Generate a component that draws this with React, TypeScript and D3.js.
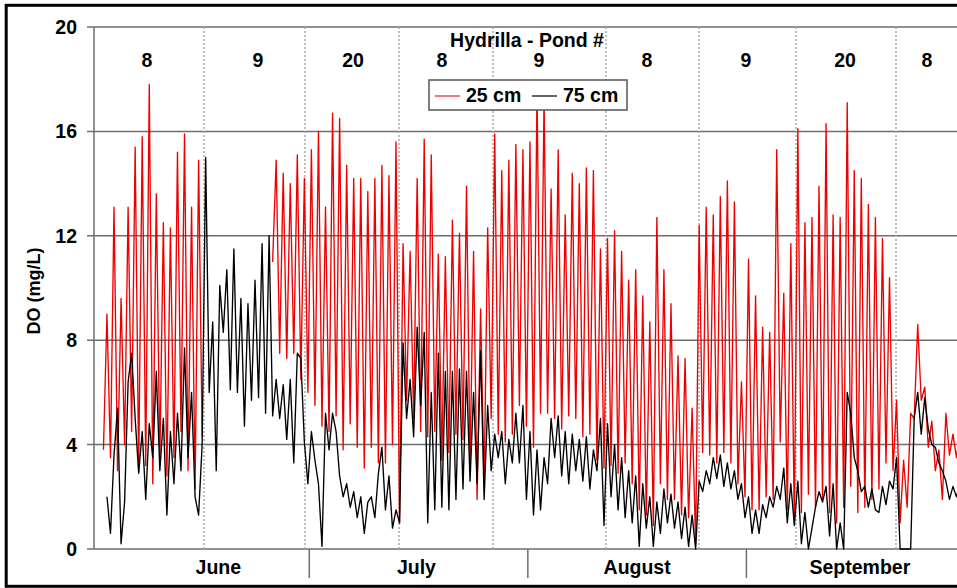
import React from "react";
import * as d3 from "d3";

// ---- data ----
const yTicks = [0, 4, 8, 12, 16, 20];
const months = ["June", "July", "August", "September"];
const monthLabelDays = [17.1, 45.2, 76.5, 108.1];
const monthBoundaryDays = [30, 61, 92];
const ponds = ["8", "9", "20", "8", "9", "8", "9", "20", "8"];
const pondLabelDays = [6.98, 22.72, 36.2, 48.82, 62.58, 77.9, 91.94, 106.0, 117.6];
const pondBoundaryDays = [15.06, 29.39, 42.72, 56.06, 72.09, 85.28, 99.04, 113.22];
const seriesNames = ["25 cm", "75 cm"];

// readings every 12 h (dawn, afternoon) starting at day 0.8
const sampleStart = 0.8;
const sampleStep = 0.5;
const N = NaN;

const do25 = [
  3.8, 9.0, 3.5, 13.1, 3.0, 9.6, 4.0, 13.1, 4.5, 15.4, 3.0, 15.8, 3.2, 17.8, 2.5, 13.6, 3.4, 12.5, 2.8, 12.3,
  3.5, 15.2, 4.5, 15.9, 3.0, 13.1, 2.3, 14.9, 4.3, N, N, N, N, N, N, N, N, N, N, N,
  N, N, N, N, N, N, N, N, 11.0, 14.9, 7.5, 14.4, 7.3, 14.0, 7.5, 15.1, 6.5, 14.2, 6.0, 15.3,
  5.5, 16.0, 4.7, 13.1, 4.5, 16.7, 5.1, 16.5, 3.8, 14.7, 4.8, 14.2, 3.9, 14.2, 3.1, 13.7, 3.9, 14.2, 3.3, 14.7,
  3.3, 14.3, 4.0, 15.6, 1.0, 11.7, 5.7, 11.4, 5.0, 14.2, 4.5, 15.7, 4.3, 15.1, 4.5, 11.3, 3.4, 11.2, 3.7, 12.6,
  4.4, 12.1, 4.2, 13.9, 3.2, 11.4, 1.9, 9.2, 2.4, 12.3, 5.0, 15.9, 4.4, 14.5, 4.1, 14.9, 4.4, 15.5, 5.5, 15.3,
  4.7, 15.6, 3.9, 17.6, 5.2, 17.3, 5.2, 13.8, 5.0, 15.3, 4.6, 12.8, 5.1, 14.4, 5.0, 14.0, 4.3, 14.6, 4.4, 14.5,
  3.4, 11.5, 3.1, 11.9, 3.2, 12.2, 2.9, 11.4, 3.3, 10.3, 2.5, 10.7, 1.5, 9.7, 1.3, 8.7, 0.9, 12.7, 2.5, 10.7,
  1.9, 9.4, 1.9, 7.4, 1.3, 7.3, 1.2, 5.4, 0.2, 12.4, 3.7, 13.1, 3.6, 12.8, 3.3, 13.5, 3.7, 14.1, 3.3, 13.3,
  2.5, 6.4, 2.0, 11.1, 1.5, 9.7, 1.5, 8.5, 2.0, 8.3, 1.9, 15.3, 4.1, 9.8, 1.5, 11.7, 1.0, 16.1, 1.4, 12.5,
  2.1, 12.7, 1.6, 13.9, 1.9, 16.3, 1.4, 12.8, 1.0, 12.7, 1.6, 17.1, 2.4, 14.5, 1.4, 14.2, 1.6, 13.2, 1.9, 12.7,
  2.3, 11.9, 3.3, 10.4, 3.0, 5.7, 1.0, 3.4, 1.6, 5.2, 5.0, 8.6, 5.7, 6.2, 3.9, 4.9, 3.0, 3.8, 1.9, 5.2,
  3.6, 4.4, 3.5, 4.5,
];

const do75 = [
  N, 2.0, 0.6, 3.6, 5.4, 0.2, 1.8, 6.4, 7.5, 5.0, 2.9, 4.5, 1.9, 4.8, 3.5, 6.8, 3.0, 5.0, 1.3, 4.5,
  2.5, 5.2, 3.0, 7.7, 3.5, 6.0, 2.0, 1.3, 4.0, 15.0, 6.0, 8.7, 3.0, 10.1, 8.3, 10.7, 6.1, 11.5, 6.0, 9.6,
  4.7, 9.4, 5.7, 10.3, 5.8, 11.7, 5.2, 12.0, 5.1, 6.5, 5.0, 6.3, 4.2, 6.5, 3.3, 7.5, 7.3, 4.1, 2.5, 4.5,
  3.4, 2.5, 0.1, 5.2, 3.8, 5.2, 4.5, 2.8, 2.0, 2.5, 1.6, 2.2, 1.2, 2.0, 0.6, 1.8, 2.0, 1.2, 2.9, 3.9,
  1.5, 2.8, 0.8, 1.5, 1.0, 7.9, 5.0, 6.5, 4.3, 8.5, 5.5, 8.3, 1.0, 6.0, 1.5, 7.5, 1.6, 6.8, 1.5, 6.8,
  1.9, 6.9, 2.3, 6.8, 2.6, 6.0, 2.5, 7.6, 1.9, 5.5, 3.0, 4.4, 3.5, 4.5, 2.5, 4.2, 3.3, 5.2, 3.3, 5.5,
  1.9, 4.5, 1.3, 3.8, 1.5, 3.5, 2.5, 5.0, 3.5, 5.1, 2.8, 4.5, 2.5, 4.4, 3.0, 4.2, 2.6, 4.3, 2.3, 3.8,
  3.0, 5.0, 0.9, 4.8, 2.0, 4.0, 1.5, 3.5, 1.2, 3.0, 1.0, 2.8, 0.1, 2.5, 0.8, 2.0, 0.1, 1.8, 0.6, 2.3,
  1.0, 2.1, 0.8, 1.8, 0.4, 1.6, 0.1, 1.3, 0.0, 2.6, 2.2, 3.0, 2.5, 3.5, 2.7, 3.6, 2.4, 3.3, 2.3, 3.0,
  1.9, 2.5, 1.2, 2.0, 0.6, 1.5, 0.6, 1.7, 1.2, 2.0, 1.6, 2.4, 1.9, 3.1, 1.0, 2.5, 0.9, 2.6, 0.2, 1.4,
  0.0, 0.8, 1.6, 2.2, 1.8, 2.4, 0.5, 2.5, 0.0, 1.0, 0.0, 6.0, 5.2, 3.5, 3.0, 2.2, 2.4, 1.6, 2.3, 1.5,
  1.4, 2.4, 1.7, 2.6, 2.3, 3.5, 0.0, 0.0, 0.0, 0.0, 5.0, 6.0, 4.4, 5.8, 4.6, 4.0, 3.9, 3.3, 3.0, 2.6,
  1.9, 2.4, 2.0, 2.5,
];

const FONT = "'Liberation Sans', Arial, sans-serif";

export default function App() {
  const W = 957;
  const H = 588;
  const plotLeft = 94;
  const plotTop = 27;
  const plotBottom = 549;
  const plotRight = 1000;

  const x = d3.scaleLinear().domain([0, 122]).range([97.8, 97.8 + 7.05 * 122]);
  const y = d3.scaleLinear().domain([0, 20]).range([plotBottom, plotTop]);

  const toPts = (arr: number[]) => arr.map((v, k) => [sampleStart + k * sampleStep, v] as [number, number]);
  const line = d3
    .line<[number, number]>()
    .defined((p) => !isNaN(p[1]))
    .x((p) => x(p[0]))
    .y((p) => y(p[1]));

  const path25 = line(toPts(do25)) || "";
  const path75 = line(toPts(do75)) || "";

  const grid = "#6e6e6e";

  return (
    <svg
      width={W}
      height={H}
      style={{ position: "absolute", left: 0, top: 0, background: "#fff" }}
      fontFamily={FONT}
      fontWeight="bold"
    >
      <defs>
        <clipPath id="plotClip">
          <rect x={plotLeft} y={plotTop - 2} width={plotRight - plotLeft} height={plotBottom - plotTop + 3} />
        </clipPath>
      </defs>
      <rect x={0} y={0} width={W} height={H} fill="#fff" />
      {/* outer frame */}
      <rect x={6.2} y={5.3} width={1000} height={581} fill="#fff" stroke="#000" strokeWidth={3} />

      {/* gridlines + ticks */}
      {yTicks.map((t) => (
        <g key={t}>
          <line x1={plotLeft - 7} x2={plotRight} y1={y(t)} y2={y(t)} stroke={grid} strokeWidth={1.5} />
          <text x={77} y={y(t) + 7} textAnchor="end" fontSize={19.5} fill="#000">
            {t}
          </text>
        </g>
      ))}
      {/* y axis line */}
      <line x1={plotLeft} x2={plotLeft} y1={plotTop} y2={plotBottom} stroke={grid} strokeWidth={1.5} />

      {/* pond separators */}
      {pondBoundaryDays.map((d, k) => (
        <line
          key={k}
          x1={x(d)}
          x2={x(d)}
          y1={plotTop}
          y2={plotBottom}
          stroke="#a9a9a9"
          strokeWidth={1.5}
          strokeDasharray="2 2"
        />
      ))}

      {/* series */}
      <g clipPath="url(#plotClip)">
        <path d={path25} fill="none" stroke="#ee0000" strokeWidth={1.35} strokeLinejoin="round" />
        <path d={path75} fill="none" stroke="#000" strokeWidth={1.35} strokeLinejoin="round" />
      </g>

      {/* month separators and labels */}
      {monthBoundaryDays.map((d, k) => (
        <line key={k} x1={x(d)} x2={x(d)} y1={plotBottom} y2={578} stroke={grid} strokeWidth={1.5} />
      ))}
      {months.map((m, k) => (
        <text key={m} x={x(monthLabelDays[k])} y={573.5} textAnchor="middle" fontSize={19.5} fill="#000">
          {m}
        </text>
      ))}

      {/* pond labels */}
      {ponds.map((p, k) => (
        <text key={k} x={x(pondLabelDays[k])} y={67} textAnchor="middle" fontSize={19.5} fill="#000">
          {p}
        </text>
      ))}
      <text x={527} y={46.5} textAnchor="middle" fontSize={19.5} fill="#000">
        Hydrilla - Pond #
      </text>

      {/* legend */}
      <rect x={429} y={80} width={198} height={30} fill="#fff" stroke="#555" strokeWidth={1.5} />
      <line x1={435} x2={460} y1={96} y2={96} stroke="#e05050" strokeWidth={1.5} />
      <text x={466} y={102} fontSize={19.5} fill="#000">
        {seriesNames[0]}
      </text>
      <line x1={532} x2={557} y1={96} y2={96} stroke="#333" strokeWidth={1.5} />
      <text x={563} y={102} fontSize={19.5} fill="#000">
        {seriesNames[1]}
      </text>

      {/* y axis title */}
      <text
        transform={`translate(40, ${291}) rotate(-90)`}
        textAnchor="middle"
        fontSize={18}
        fill="#000"
      >
        DO (mg/L)
      </text>
    </svg>
  );
}
